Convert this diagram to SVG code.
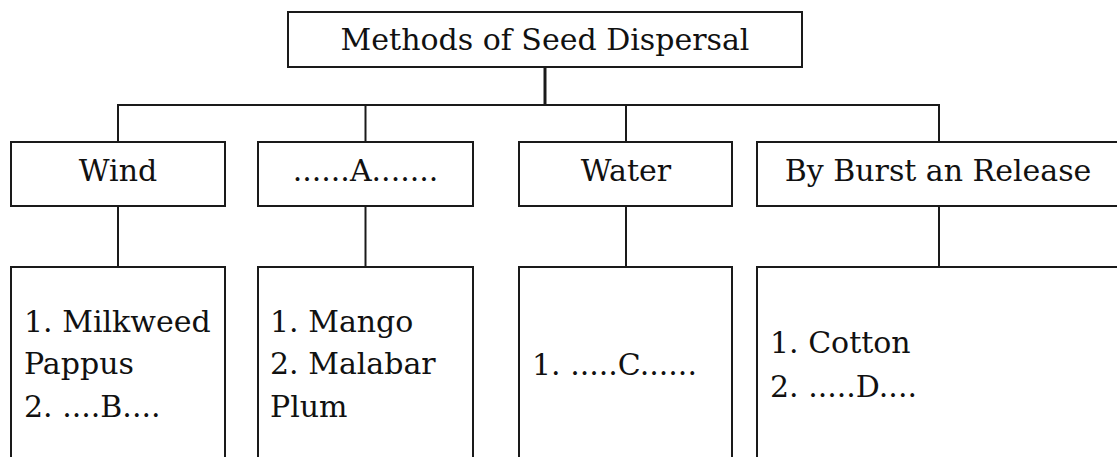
<svg xmlns="http://www.w3.org/2000/svg" width="1117" height="457" viewBox="0 0 1117 457">
  <style>
    .box { fill: #ffffff; stroke: #1a1a1a; stroke-width: 2; }
    .conn { fill: none; stroke: #1a1a1a; stroke-width: 2; }
    .stem { fill: none; stroke: #1a1a1a; stroke-width: 3; }
    text { font-family: "DejaVu Serif", "Liberation Serif", serif; font-size: 30px; fill: #111111; }
    .mid { text-anchor: middle; }
  </style>
  <rect x="0" y="0" width="1117" height="457" fill="#ffffff"/>
  <g id="connectors">
    <line class="stem" x1="545" y1="67" x2="545" y2="105"/>
    <polyline class="conn" points="118,142 118,105 939,105 939,142"/>
    <line class="conn" x1="365.5" y1="105" x2="365.5" y2="142"/>
    <line class="conn" x1="626" y1="105" x2="626" y2="142"/>
    <line class="conn" x1="118" y1="206" x2="118" y2="267"/>
    <line class="conn" x1="365.5" y1="206" x2="365.5" y2="267"/>
    <line class="conn" x1="626" y1="206" x2="626" y2="267"/>
    <line class="conn" x1="939" y1="206" x2="939" y2="267"/>
  </g>
  <g id="root">
    <rect class="box" x="288" y="12" width="514" height="55"/>
    <text class="mid" x="545" y="50">Methods of Seed Dispersal</text>
  </g>
  <g id="wind">
    <rect class="box" x="11" y="142" width="214" height="64"/>
    <text class="mid" x="118" y="181">Wind</text>
  </g>
  <g id="a">
    <rect class="box" x="258" y="142" width="215" height="64"/>
    <text class="mid" x="365.5" y="181">......A.......</text>
  </g>
  <g id="water">
    <rect class="box" x="519" y="142" width="213" height="64"/>
    <text class="mid" x="626" y="181">Water</text>
  </g>
  <g id="burst">
    <rect class="box" x="757" y="142" width="364" height="64"/>
    <text class="mid" x="938" y="181">By Burst an Release</text>
  </g>
  <g id="wind-examples">
    <rect class="box" x="11" y="267" width="214" height="210"/>
    <text x="24" y="332">1. Milkweed</text>
    <text x="24" y="374">Pappus</text>
    <text x="24" y="417">2. ....B....</text>
  </g>
  <g id="a-examples">
    <rect class="box" x="258" y="267" width="215" height="210"/>
    <text x="270" y="332">1. Mango</text>
    <text x="270" y="374">2. Malabar</text>
    <text x="270" y="417">Plum</text>
  </g>
  <g id="water-examples">
    <rect class="box" x="519" y="267" width="213" height="210"/>
    <text x="532" y="375">1. .....C......</text>
  </g>
  <g id="burst-examples">
    <rect class="box" x="757" y="267" width="364" height="210"/>
    <text x="770" y="353">1. Cotton</text>
    <text x="770" y="397">2. .....D....</text>
  </g>
</svg>
